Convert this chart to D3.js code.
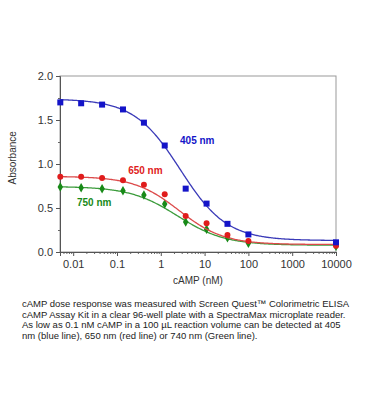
<!DOCTYPE html>
<html>
<head>
<meta charset="utf-8">
<script src="https://cdn.jsdelivr.net/npm/d3@7"></script>
<style>
  body { margin: 0; background: #fff; }
  text { font-family: "Liberation Sans", Arial, sans-serif; }
</style>
</head>
<body>
<svg id="chart" width="366" height="420"></svg>
<script>
// cAMP concentrations (nM), 3-fold dilutions plus a 10000 nM point
const conc = [0.00508, 0.0152, 0.0457, 0.137, 0.412, 1.23, 3.70, 11.1, 33.3, 100, 10000];

// Absorbance readings
const abs405 = [1.70, 1.69, 1.675, 1.62, 1.47, 1.21, 0.72, 0.55, 0.32, 0.20, 0.11];
const abs650 = [0.856, 0.856, 0.84, 0.815, 0.765, 0.656, 0.41, 0.326, 0.193, 0.125, 0.072];
const abs750 = [0.739, 0.731, 0.72, 0.697, 0.648, 0.545, 0.34, 0.258, 0.163, 0.099, 0.066];

// 4-parameter logistic fit parameters (405, 650, 750)
const fitTop = [1.74, 0.86, 0.745];
const fitBottom = [0.13, 0.085, 0.077];
const fitEC50 = [2.8, 2.6, 2.4];
const fitHill = [0.82, 0.85, 0.8];

const seriesNames = ['405 nm', '650 nm', '750 nm'];
const labelConc = [2.75, 0.18, 0.0122];
const labelAbs = [1.27, 0.93, 0.557];

const yTicks = [0, 0.5, 1.0, 1.5, 2.0];
const xTicks = [0.01, 0.1, 1, 10, 100, 1000, 10000];

const caption = [
  'cAMP dose response was measured with Screen Quest\u2122 Colorimetric ELISA',
  'cAMP Assay Kit in a clear 96-well plate with a SpectraMax microplate reader.',
  'As low as 0.1 nM cAMP in a 100 \u00b5L reaction volume can be detected at 405',
  'nm (blue line), 650 nm (red line) or 740 nm (Green  line).'
];

const margin = { top: 76, right: 30, bottom: 168, left: 60 };
const width = 366 - margin.left - margin.right;
const height = 420 - margin.top - margin.bottom;

const markerColors = ['#1414c8', '#e01c1c', '#188a18'];
const lineColors = ['#3a3ab8', '#dc4a4a', '#3c9c3c'];
const symbols = [d3.symbolSquare, d3.symbolCircle, d3.symbolDiamond];
const symbolSizes = [36, 28, 26];

const svg = d3.select('#chart');
const g = svg.append('g')
  .attr('transform', `translate(${margin.left},${margin.top})`);

const x = d3.scaleLog().domain([0.005, 10000]).range([0, width]);
const y = d3.scaleLinear().domain([0, 2]).range([height, 0]);

// Frame (top and right)
g.append('rect')
  .attr('width', width)
  .attr('height', height)
  .attr('fill', 'none')
  .attr('stroke', '#999')
  .attr('stroke-width', 1);

// Minor ticks
const yMinor = d3.range(0.25, 2, 0.5);
g.append('g')
  .call(d3.axisLeft(y).tickValues(yMinor).tickSize(2).tickFormat(''))
  .call(a => a.select('.domain').remove())
  .selectAll('line').attr('stroke', '#666');

const xMinor = x.ticks().filter(v => !xTicks.some(t => Math.abs(t - v) / t < 1e-6));
g.append('g')
  .attr('transform', `translate(0,${height})`)
  .call(d3.axisBottom(x).tickValues(xMinor).tickSize(2).tickFormat(''))
  .call(a => a.select('.domain').remove())
  .selectAll('line').attr('stroke', '#666');

// Major axes
const yAxis = g.append('g')
  .call(d3.axisLeft(y).tickValues(yTicks).tickSize(4).tickPadding(3).tickFormat(d3.format('.1f')));
const xAxis = g.append('g')
  .attr('transform', `translate(0,${height})`)
  .call(d3.axisBottom(x).tickValues(xTicks).tickSize(4).tickPadding(4).tickFormat(d3.format('~g')));

[yAxis, xAxis].forEach(a => {
  a.select('.domain').attr('stroke', '#555');
  a.selectAll('line').attr('stroke', '#555');
  a.selectAll('text')
    .attr('fill', '#333')
    .style('font-size', '11px');
});

// Axis titles
g.append('text')
  .attr('transform', `translate(-44,${y(1.07)}) rotate(-90)`)
  .attr('text-anchor', 'middle')
  .style('font-size', '10px')
  .attr('fill', '#333')
  .text('Absorbance');

g.append('text')
  .attr('x', width / 2)
  .attr('y', height + 32)
  .attr('text-anchor', 'middle')
  .style('font-size', '10px')
  .attr('fill', '#333')
  .text('cAMP (nM)');

// Fit curves
const samples = d3.range(0, 301).map(i => {
  const [lo, hi] = x.domain().map(Math.log10);
  return Math.pow(10, lo + (hi - lo) * i / 300);
});

const line = d3.line()
  .x(d => x(d[0]))
  .y(d => y(d[1]));

const seriesData = [abs405, abs650, abs750];

// draw green, red, blue so blue stays on top
[2, 1, 0].forEach(s => {
  const fit = samples.map(c => [c,
    fitBottom[s] + (fitTop[s] - fitBottom[s]) / (1 + Math.pow(c / fitEC50[s], fitHill[s]))]);

  g.append('path')
    .datum(fit)
    .attr('fill', 'none')
    .attr('stroke', lineColors[s])
    .attr('stroke-width', 1.3)
    .attr('d', line);

  g.append('g')
    .selectAll('path')
    .data(conc.map((c, i) => [c, seriesData[s][i]]))
    .join('path')
    .attr('transform', d => `translate(${x(d[0])},${y(d[1])})`)
    .attr('d', d3.symbol().type(symbols[s]).size(symbolSizes[s]))
    .attr('fill', markerColors[s]);

  g.append('text')
    .attr('x', x(labelConc[s]))
    .attr('y', y(labelAbs[s]))
    .attr('dy', '0.35em')
    .style('font-size', '10px')
    .style('font-weight', 'bold')
    .attr('fill', markerColors[s])
    .text(seriesNames[s]);
});

// Caption
svg.append('g')
  .selectAll('text')
  .data(caption)
  .join('text')
  .attr('x', 22)
  .attr('y', (d, i) => 307 + i * 10.7)
  .style('font-size', '9.5px')
  .attr('fill', '#222')
  .text(d => d);
</script>
</body>
</html>
